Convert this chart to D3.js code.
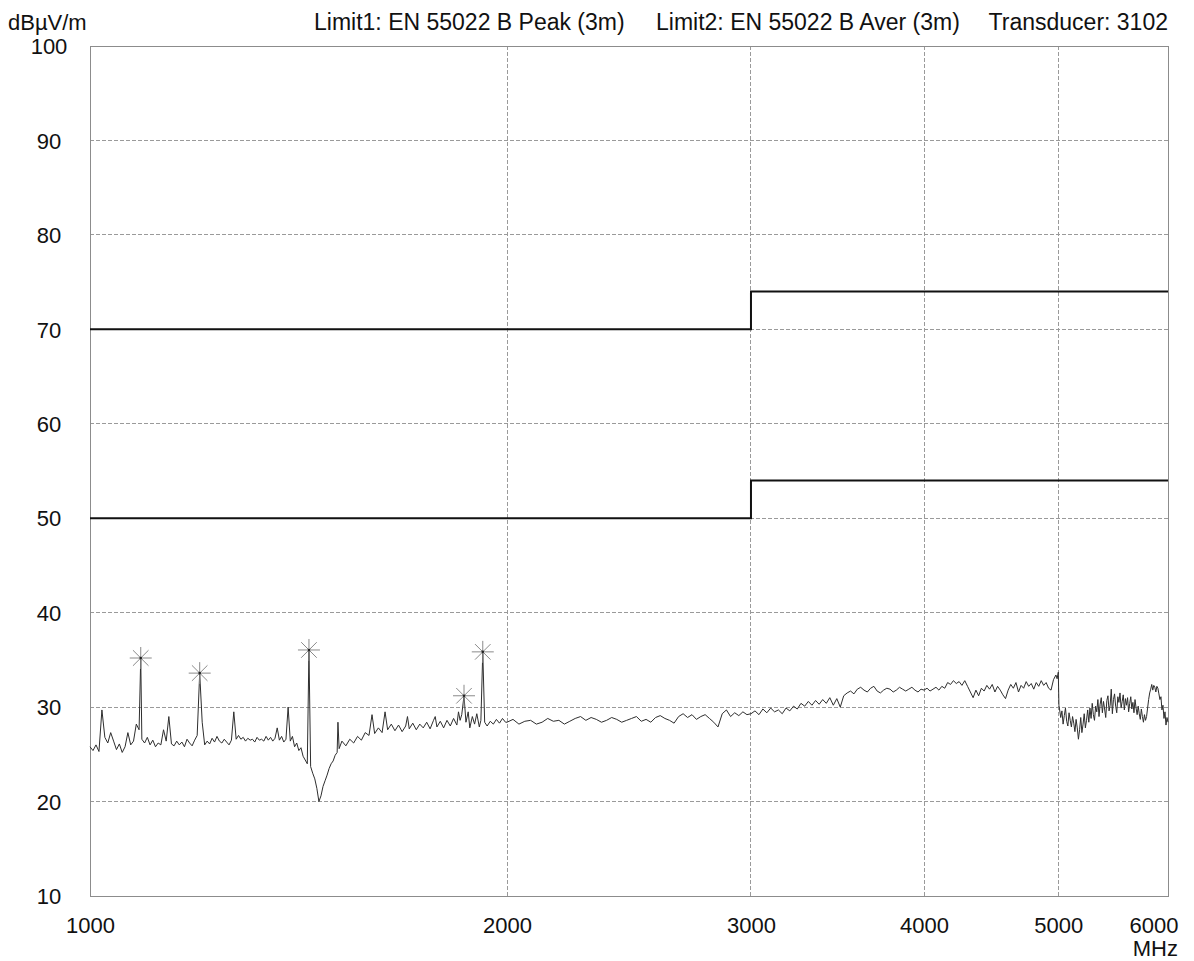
<!DOCTYPE html>
<html><head><meta charset="utf-8">
<script src="https://cdn.jsdelivr.net/npm/d3@7/dist/d3.min.js"></script>
<style>
body{margin:0;background:#fff}
text{font-family:"Liberation Sans",Arial,sans-serif;fill:#111}
</style></head>
<body><svg id="chart" width="1194" height="961"></svg>
<script>
// ---- data ----
const yTicks = [10,20,30,40,50,60,70,80,90,100];
const xTicks = [1000,2000,3000,4000,5000,6000];
const headerTexts = ["dBµV/m","Limit1: EN 55022 B Peak (3m)","Limit2: EN 55022 B Aver (3m)","Transducer: 3102"];
const limit1Freqs = [1000,3000,3000,6000];
const limit1Levels = [70,70,74,74];
const limit2Freqs = [1000,3000,3000,6000];
const limit2Levels = [50,50,54,54];
const markerFreqs = [1088,1200,1439,1862,1921];
const markerLevels = [35.2,33.6,36.05,31.2,35.85];

const traceSeg1 = [[1000,25.8],[1005,25.4],[1010,26.0],[1015,25.3],[1020,29.7],[1025,26.8],[1030,26.2],[1035,27.3],[1040,26.4],[1045,25.5],
[1050,26.1],[1055,25.2],[1060,25.8],[1065,27.3],[1070,26.0],[1075,26.4],[1080,28.2],[1085,27.6],[1088,35.2],[1090,26.6],[1095,26.2],
[1100,26.8],[1105,26.0],[1110,26.5],[1115,25.8],[1120,26.2],[1125,26.0],[1130,27.6],[1135,26.4],[1140,29.0],[1145,26.1],
[1150,25.9],[1155,26.4],[1160,26.0],[1165,26.3],[1170,25.8],[1175,26.6],[1180,26.2],[1185,25.9],[1190,26.5],[1195,27.0],
[1200,33.6],[1205,28.4],[1210,26.0],[1215,26.4],[1220,26.1],[1225,26.7],[1230,26.3],[1235,26.9],[1240,26.4],[1245,26.2],
[1250,26.6],[1255,26.3],[1260,26.0],[1265,26.5],[1270,29.5],[1275,26.6],[1280,27.0],[1285,26.6],[1290,26.8],[1295,26.4],
[1300,26.7],[1305,26.5],[1310,26.6],[1315,26.3],[1320,26.8],[1325,26.5],[1330,26.6],[1335,26.4],[1340,26.9],[1345,26.5],
[1350,26.8],[1355,26.4],[1360,26.7],[1365,27.8],[1370,26.5],[1375,26.9],[1380,26.3],[1385,26.6],[1390,30.0],[1395,26.4],
[1400,26.9],[1405,25.8],[1410,26.2],[1415,25.4],[1420,25.7],[1425,24.8],[1430,24.4],[1435,24.0],[1439,36.05],[1443,23.7],
[1448,23.0],[1453,22.4],[1458,21.4],[1463,20.0],[1468,20.6],[1473,21.6],[1478,22.2],[1483,22.8],[1488,23.5],[1493,24.0],
[1498,24.3],[1503,24.9],[1508,25.2],[1510,28.4],[1513,25.6]];

const traceSeg2 = [[1520,26.4],[1530,25.9],[1540,26.6],[1550,26.2],[1560,26.9],[1570,26.5],[1580,27.3],[1590,27.0],[1598,29.2],
[1605,27.2],[1615,27.8],[1625,27.3],[1633,29.5],[1640,27.6],[1650,28.2],[1660,27.5],[1670,28.1],[1680,27.4],[1690,28.0],
[1695,29.0],[1700,27.7],[1710,28.3],[1720,27.6],[1730,28.2],[1740,27.8],[1750,28.4],[1760,27.7],[1770,28.6],[1775,29.0],
[1780,27.9],[1790,28.5],[1800,27.8],[1810,28.6],[1820,28.0],[1830,28.8],[1840,28.1],[1845,29.5],[1850,28.6],[1855,29.2],
[1862,31.2],[1868,28.4],[1875,29.5],[1880,27.8],[1888,29.0],[1895,28.2],[1902,29.3],[1910,27.9],[1915,28.6],[1921,35.85],
[1927,28.4],[1935,28.0],[1945,28.5],[1955,28.2],[1965,28.7],[1975,28.3],[1985,28.8],[1995,28.4]];

const traceSeg3 = [[2000,28.4],[2020,28.7],[2040,28.2],[2060,28.5],[2080,28.6],[2100,28.2],[2120,28.4],[2140,28.8],[2160,28.5],[2180,28.6],
[2200,28.2],[2220,28.5],[2240,28.8],[2260,29.0],[2280,28.6],[2300,28.9],[2320,28.7],[2340,28.4],[2360,28.6],[2380,28.9],
[2400,28.7],[2420,28.4],[2440,28.6],[2460,28.8],[2480,29.0],[2500,28.5],[2520,28.7],[2540,28.4],[2560,28.9],[2580,29.1],
[2600,28.8],[2620,28.6],[2640,28.3],[2660,29.0],[2680,29.3],[2700,28.9],[2720,29.2],[2740,28.7],[2760,29.0],[2780,29.2],
[2800,28.8],[2820,28.4],[2840,27.9],[2860,29.3],[2880,29.7],[2900,29.0],[2920,29.4],[2940,29.1],[2960,29.5],[2980,29.2]];

const traceSeg4 = [[3000,29.3],[3020,29.6],[3040,29.2],[3060,29.8],[3080,29.4],[3100,29.9],[3120,29.5],[3140,29.7],[3160,29.3],[3180,29.9],
[3200,29.6],[3220,30.1],[3240,29.8],[3260,30.4],[3280,30.1],[3300,30.6],[3320,30.2],[3340,30.7],[3360,30.3],[3380,30.8],
[3400,30.4],[3420,31.0],[3440,30.2],[3460,30.9],[3480,30.0],[3500,31.2],[3520,31.5],[3540,31.7],[3560,31.4],[3580,31.9],
[3600,32.1],[3620,31.8],[3640,31.6],[3660,32.0],[3680,32.2],[3700,31.7],[3720,31.5],[3740,31.8],[3760,32.0],[3780,31.9],
[3800,31.6],[3820,31.8],[3840,32.1],[3860,31.9],[3880,31.7],[3900,31.9],[3920,32.1],[3940,31.8],[3960,31.6],[3980,31.9]];

const traceSeg5 = [[4000,31.8],[4020,32.0],[4040,31.7],[4060,31.9],[4080,32.1],[4100,31.8],[4120,32.2],[4140,32.0],[4160,32.6],[4180,32.4],
[4200,32.8],[4220,32.5],[4240,32.7],[4260,32.3],[4280,32.8],[4300,32.2],[4320,31.6],[4340,31.0],[4360,31.8],[4380,31.2],
[4400,32.0],[4420,31.7],[4440,32.3],[4460,31.9],[4480,32.4],[4500,31.6],[4520,32.2],[4540,31.8],[4560,31.3],[4580,30.9],
[4600,31.8],[4620,32.4],[4640,32.0],[4660,32.6],[4680,31.6],[4700,32.3],[4720,32.0],[4740,32.7],[4760,32.2],[4780,32.5],
[4800,31.9],[4820,32.6],[4840,32.2],[4860,32.8],[4880,32.3],[4900,32.6],[4920,32.0],[4940,31.8],[4960,32.9],[4980,33.4],
[4990,33.0],[5000,33.7],[5005,30.2]];

const traceSeg6 = [[5010,29.8],[5020,28.9],[5030,29.6],[5040,28.2],[5050,29.1],[5060,29.9],[5070,28.5],[5080,28.0],[5090,29.4],[5100,28.6],
[5110,27.9],[5120,29.0],[5130,28.3],[5140,27.4],[5150,28.7],[5160,27.8],[5170,26.6],[5180,27.6],[5190,28.9],[5200,27.3],
[5210,28.2],[5220,29.3],[5230,27.8],[5240,28.6],[5250,29.7],[5260,28.4],[5270,29.9],[5280,28.8],[5290,30.4],[5300,29.2],
[5310,28.6],[5320,30.1],[5330,29.5],[5340,30.8],[5350,29.0],[5360,30.3],[5370,31.0],[5380,29.4],[5390,30.6],[5400,29.8],
[5410,28.9],[5420,30.7],[5430,31.2],[5440,29.6],[5450,30.2],[5460,31.9],[5470,29.3],[5480,30.8],[5490,31.4],[5500,30.1],
[5510,29.4],[5520,31.1],[5530,30.5],[5540,31.5],[5550,29.9],[5560,30.6],[5570,31.3],[5580,29.7],[5590,30.9],[5600,30.2],
[5610,31.0],[5620,29.5],[5630,30.4],[5640,31.1],[5650,29.8],[5660,30.5],[5670,29.4],[5680,30.8],[5690,29.9],[5700,29.2],
[5710,30.1],[5720,29.3],[5730,28.7],[5740,29.8],[5750,29.0],[5760,28.4],[5770,29.2],[5780,28.6],[5790,29.0],[5800,29.9],
[5810,30.8],[5820,31.5],[5830,31.9],[5840,32.4],[5850,31.8],[5860,32.3],[5870,32.1],[5880,31.6],[5890,32.2],[5900,32.0],
[5910,31.4],[5920,30.8],[5930,31.1],[5940,29.7],[5950,30.2],[5960,28.8],[5970,29.5],[5980,28.1],[5990,28.9],[6000,28.4]];

// ---- drawing ----
const svg = d3.select("#chart");
const L = 90, R = 1168, T = 46, B = 896;
const x = d3.scaleLog().domain([1000, 6000]).range([L, R]);
const y = d3.scaleLinear().domain([10, 100]).range([B, T]);
const FONT = '"Liberation Sans",Arial,sans-serif';

// grid
svg.append("g").selectAll("line").data(yTicks.filter(d => d > 10 && d < 100)).join("line")
  .attr("x1", L).attr("x2", R).attr("y1", d => y(d)).attr("y2", d => y(d))
  .attr("stroke", "#9a9a9a").attr("stroke-width", 1).attr("stroke-dasharray", "4,2").attr("shape-rendering","crispEdges");
svg.append("g").selectAll("line").data(xTicks.filter(d => d > 1000 && d < 6000)).join("line")
  .attr("x1", d => x(d)).attr("x2", d => x(d)).attr("y1", T).attr("y2", B)
  .attr("stroke", "#9a9a9a").attr("stroke-width", 1).attr("stroke-dasharray", "4,2").attr("shape-rendering","crispEdges");

// frame
svg.append("rect").attr("x", L).attr("y", T).attr("width", R - L).attr("height", B - T)
  .attr("fill", "none").attr("stroke", "#8c8c8c").attr("stroke-width", 1).attr("shape-rendering","crispEdges");

// axes labels
const yAxis = d3.axisLeft(y).tickValues(yTicks).tickSize(0).tickFormat(d3.format("d"));
const gy = svg.append("g").attr("transform", `translate(${L},0)`).call(yAxis);
gy.select(".domain").remove();
gy.selectAll("text").attr("x", -41).attr("dy", "0.35em").attr("text-anchor", "middle")
  .style("font-size", "22px").style("font-family", FONT).attr("fill", "#111");

const xAxis = d3.axisBottom(x).tickValues(xTicks).tickSize(0).tickFormat(d3.format("d"));
const gx = svg.append("g").attr("transform", `translate(0,${B})`).call(xAxis);
gx.select(".domain").remove();
gx.selectAll("text").attr("y", 37).attr("dy", 0)
  .style("font-size", "22px").style("font-family", FONT).attr("fill", "#111")
  .attr("text-anchor", d => d === 6000 ? "end" : "middle")
  .attr("x", d => d === 6000 ? 10 : 0);

svg.append("text").attr("x", 1178).attr("y", 956).attr("text-anchor", "end")
  .style("font-size", "22px").text("MHz");

// header
const headerX = [8, 314, 656, 1168];
svg.append("g").selectAll("text").data(headerTexts).join("text")
  .attr("x", (d, i) => headerX[i]).attr("y", 30)
  .attr("text-anchor", (d, i) => i === 3 ? "end" : "start")
  .style("font-size", (d, i) => i === 0 ? "22px" : "23px").text(d => d);

// limit lines
const line = d3.line().x(d => x(d[0])).y(d => y(d[1]));
svg.append("path").datum(d3.zip(limit1Freqs, limit1Levels)).attr("d", line)
  .attr("fill", "none").attr("stroke", "#111").attr("stroke-width", 2);
svg.append("path").datum(d3.zip(limit2Freqs, limit2Levels)).attr("d", line)
  .attr("fill", "none").attr("stroke", "#111").attr("stroke-width", 2);

// trace
const trace = [].concat(traceSeg1, traceSeg2, traceSeg3, traceSeg4, traceSeg5, traceSeg6);
svg.append("path").datum(trace).attr("d", line)
  .attr("fill", "none").attr("stroke", "#2e2e2e").attr("stroke-width", 1).attr("stroke-linejoin", "round");

// markers (asterisks)
const markers = d3.zip(markerFreqs, markerLevels);
const mg = svg.append("g").selectAll("g").data(markers).join("g")
  .attr("transform", d => `translate(${x(d[0])},${y(d[1])})`);
[0, 45, 90, 135].forEach(a => {
  const r = 11, rad = a * Math.PI / 180;
  mg.append("line")
    .attr("x1", -r * Math.cos(rad)).attr("y1", -r * Math.sin(rad))
    .attr("x2", r * Math.cos(rad)).attr("y2", r * Math.sin(rad))
    .attr("stroke", "#8a8a8a").attr("stroke-width", 1);
});
mg.append("circle").attr("r", 1.3).attr("fill", "#222");
</script>
</body></html>
